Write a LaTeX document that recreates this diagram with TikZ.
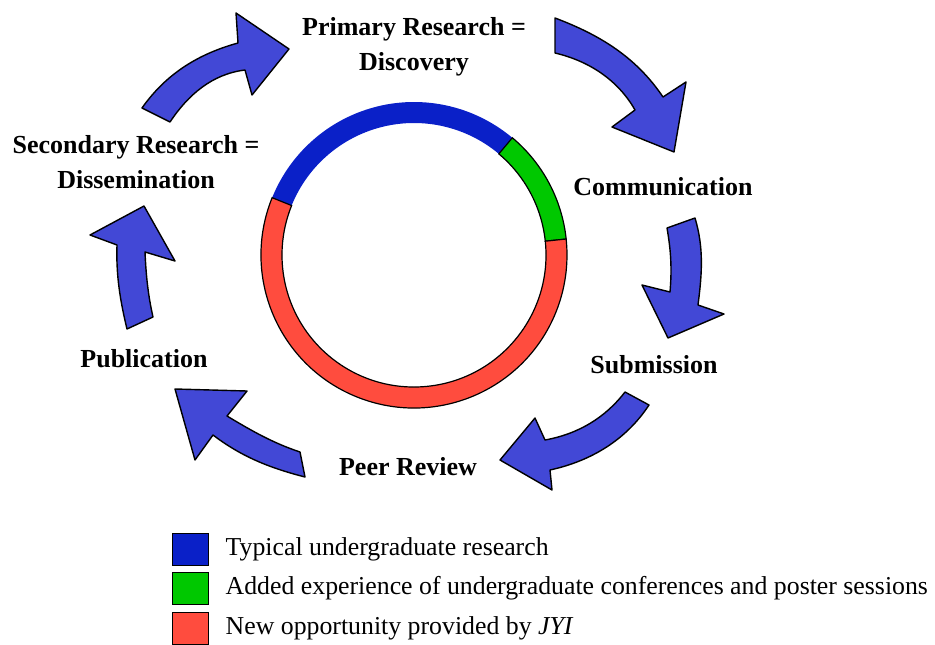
\documentclass[tikz,border=0pt]{standalone}
\usepackage{fontspec}
\setmainfont{Liberation Serif}
\usetikzlibrary{positioning}
\definecolor{flowblue}{RGB}{66,72,214}
\definecolor{ringblue}{RGB}{10,32,200}
\definecolor{ringgreen}{RGB}{0,200,0}
\definecolor{ringred}{RGB}{255,76,62}

\begin{document}
\begin{tikzpicture}[x=1pt,y=-1pt,
        flow/.style={draw=black, fill=flowblue, line width=1.4pt, line join=round},
        seg/.style={draw=black, line width=1.2pt},
        stage/.style={font=\fontsize{26}{35}\selectfont\bfseries, align=center, inner sep=0pt},
        legbox/.style={draw=black, line width=1pt, minimum width=36pt, minimum height=32pt, inner sep=0pt},
        legtext/.style={font=\fontsize{25.8}{30}\selectfont, inner sep=0pt, anchor=west}]
            \useasboundingbox (0,0) rectangle (935,645);
            % ring
            \begin{scope}[shift={(414,255)}]
                \fill[ringblue] (-50:153) arc[start angle=-50, end angle=-158, radius=153] -- (-158:132) arc[start angle=-158, end angle=-50, radius=132] -- cycle;
                \filldraw[seg, fill=ringgreen] (-6:153) arc[start angle=-6, end angle=-50, radius=153] -- (-50:132) arc[start angle=-50, end angle=-6, radius=132] -- cycle;
                \filldraw[seg, fill=ringred] (-158:153) arc[start angle=-158, end angle=-366, radius=153] -- (-366:132) arc[start angle=-366, end angle=-158, radius=132] -- cycle;
            \end{scope}
            % arrows
            \draw[flow] (142,108) .. controls (166,74) and (198,54) .. (238,43) -- (236,13) -- (289,49) -- (252,95) -- (245,70) .. controls (212,74) and (188,95) .. (170,122) -- cycle;
            \draw[flow] (555,18) .. controls (600,35) and (636,57) .. (663,97) -- (686,82) -- (674,152) -- (612,127) -- (635,110) .. controls (618,80) and (589,61) .. (555,53) -- cycle;
            \draw[flow] (695,218) .. controls (704,248) and (702,274) .. (698,305) -- (724,314) -- (668,338) -- (642,285) -- (670,292) .. controls (672,269) and (671,251) .. (667,228) -- cycle;
            \draw[flow] (649,405) .. controls (626,440) and (591,461) .. (550,470) -- (552,490) -- (500,460) -- (535,418) -- (545,440) .. controls (578,434) and (605,418) .. (625,392) -- cycle;
            \draw[flow] (175,389) -- (247,391) -- (227,416) .. controls (252,431) and (273,443) .. (300,452) -- (305,477) .. controls (270,468) and (242,457) .. (213,435) -- (195,460) -- cycle;
            \draw[flow] (153,317) .. controls (148,295) and (146,275) .. (145,252) -- (175,261) -- (144,206) -- (90,235) -- (117,245) .. controls (116,275) and (120,300) .. (127,329) -- cycle;
            % stages
            \node[stage] (primary) at (414,47) {Primary Research =\\Discovery};
            \node[stage] (secondary) at (136,162) {Secondary Research =\\Dissemination};
            \node[stage, anchor=base] (comm) at (663,195) {Communication};
            \node[stage, anchor=base] (subm) at (654,373) {Submission};
            \node[stage, anchor=base] (peer) at (408,475) {Peer Review};
            \node[stage, anchor=base] (publ) at (144,367) {Publication};
            % legend
            \node[legbox, fill=ringblue] (kblue) at (190,549) {};
            \node[legbox, fill=ringgreen] (kgreen) at (190,588) {};
            \node[legbox, fill=ringred] (kred) at (190,628) {};
            \node[legtext, right=17pt of kblue] (tblue) {Typical undergraduate research};
            \node[legtext, right=17pt of kgreen] (tgreen) {Added experience of undergraduate conferences and poster sessions};
            \node[legtext, right=17pt of kred] (tred) {New opportunity provided by \textit{JYI}};
        \end{tikzpicture}
\end{document}
